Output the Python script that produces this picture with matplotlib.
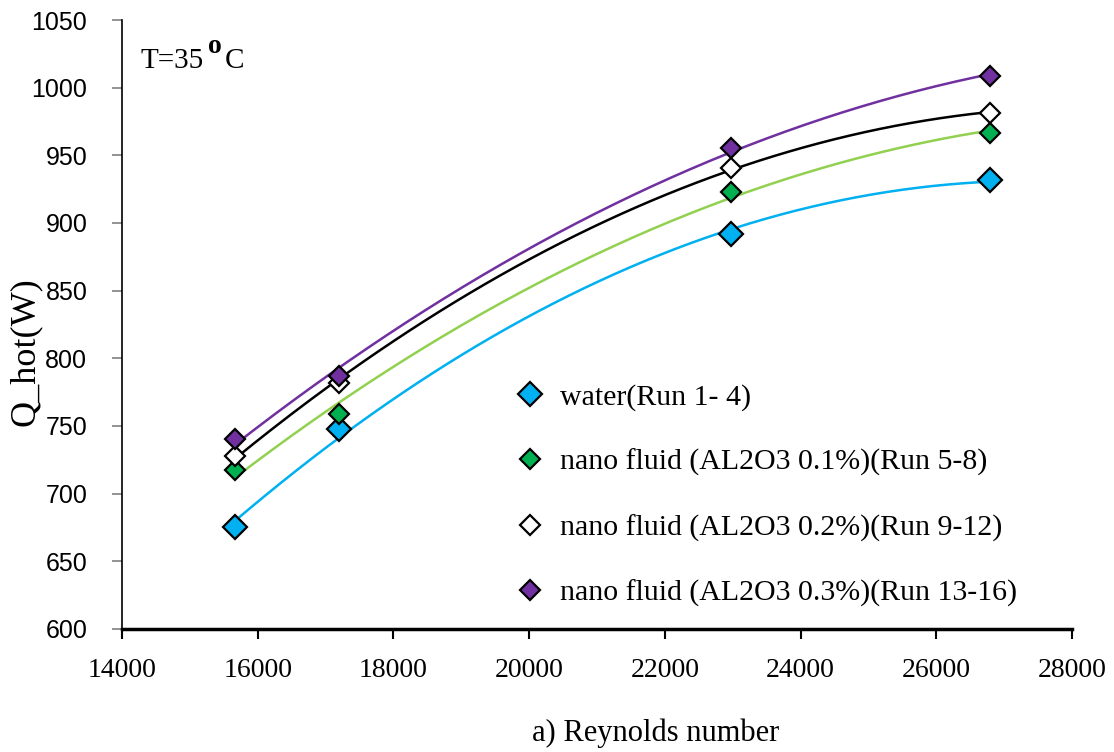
import numpy as np
import matplotlib
matplotlib.use("Agg")
import matplotlib.pyplot as plt

plt.rcParams['font.family'] = ['Liberation Serif', 'DejaVu Serif']

reynolds = [15665, 17200, 22975, 26790]
water = [675.4, 747.8, 891.9, 931.9]
nano01 = [717.5, 759.0, 923.0, 966.6]
nano02 = [727.9, 781.8, 940.7, 981.4]
nano03 = [740.4, 787.0, 955.5, 1008.7]

labels = ["water(Run 1- 4)",
          "nano fluid (AL2O3 0.1%)(Run 5-8)",
          "nano fluid (AL2O3 0.2%)(Run 9-12)",
          "nano fluid (AL2O3 0.3%)(Run 13-16)"]

series = [water, nano01, nano02, nano03]
line_colors = ['#00B0F0', '#92D050', '#000000', '#7030A0']
marker_colors = ['#00B0F0', '#00B050', '#FFFFFF', '#7030A0']
marker_sizes = [12, 10, 10, 10]

fig = plt.figure(figsize=(11.14, 7.52), dpi=100)
ax = fig.add_axes([0.1095, 0.1636, 0.8528, 0.8098])

x = np.array(reynolds, dtype=float)
xs = np.linspace(x.min(), x.max(), 200)
handles = []
for ys, lc, mc, ms, lab in zip(series, line_colors, marker_colors, marker_sizes, labels):
    coef = np.polyfit(x, ys, 2)
    ax.plot(xs, np.polyval(coef, xs), color=lc, lw=1.8, zorder=2)
    h, = ax.plot(x, ys, linestyle='none', marker='D', markersize=ms,
                 markerfacecolor=mc, markeredgecolor='black', markeredgewidth=1.6,
                 label=lab, zorder=3)
    handles.append(h)

ax.set_xlim(14000, 28000)
ax.set_ylim(600, 1050)
ax.set_xticks(np.arange(14000, 28001, 2000))
ax.set_yticks(np.arange(600, 1051, 50))

ax.spines['top'].set_visible(False)
ax.spines['right'].set_visible(False)
ax.spines['left'].set_linewidth(1.2)
ax.spines['bottom'].set_linewidth(2.5)
ax.tick_params(axis='x', direction='out', length=7, width=1.5, labelsize=20, pad=14)
ax.tick_params(axis='y', direction='out', length=7, width=1.2, color='#808080', labelsize=18, pad=18)
for lbl in ax.get_yticklabels():
    lbl.set_fontfamily(['Liberation Sans', 'DejaVu Sans'])

ax.set_xlabel("a) Reynolds number", fontsize=22)
ax.xaxis.set_label_coords((656 - 122) / 950, -(733 - 629) / 609)
ax.xaxis.label.set_verticalalignment('center')
fig.text(25 / 1114, 1 - 352 / 752, "Q_hot(W)", rotation=90, fontsize=26,
         ha='center', va='center')

ax.text(0.019, 0.921, "T=35", transform=ax.transAxes, fontsize=21, va='baseline', ha='left')
ax.text(0.0979, 0.9458, "o", transform=ax.transAxes, fontsize=20, fontweight='bold',
        va='baseline', ha='center')
ax.text(0.108, 0.921, "C", transform=ax.transAxes, fontsize=21, va='baseline', ha='left')

ax.legend(handles=handles, loc='upper left', bbox_to_anchor=(0.401, 0.423),
          frameon=False, fontsize=21.5, labelspacing=1.28, handletextpad=0.5,
          handlelength=1.0, borderaxespad=0)

fig.savefig("out.png", dpi=100)
